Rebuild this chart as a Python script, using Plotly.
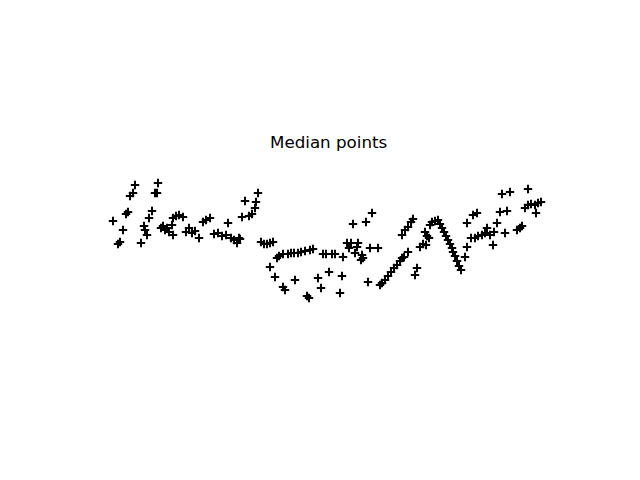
import plotly.graph_objects as go

# Median point positions (x, y)
x_vals = [
    113, 118, 120, 123, 126, 128, 130, 133, 135, 141, 144, 145, 147, 149, 152, 155, 157, 158,
    161, 163, 165, 167, 169,
    173, 176, 179, 183, 172, 173, 186, 189, 192, 195, 199, 203, 206, 210, 214, 218, 222, 226,
    228, 231, 234, 237, 240,
    242, 245, 249, 252, 255, 256, 258, 239, 261, 264, 267, 270, 273, 277, 279, 283, 288, 291,
    294, 298, 301, 305, 310, 313, 270, 275, 283, 285, 295, 307, 309,
    318, 321, 323, 326, 332, 335, 329, 342, 340, 343, 347, 351, 349, 355, 358, 357, 362, 363,
    361, 370, 378, 353, 366, 372, 368, 380,
    382, 385, 388, 391, 394, 397, 400, 402, 404, 408, 402, 405, 408, 411, 413, 417, 415, 420,
    423, 426, 425, 427, 429, 430, 432, 435, 438,
    440, 442, 444, 446, 448, 450, 452, 453, 455, 457, 459, 461,
    467, 465, 467, 473, 477, 471, 475, 478, 482, 485, 487, 490, 494, 497, 493, 505, 500, 507,
    502, 510, 517, 520, 522, 525, 528, 531, 535, 538, 541, 536, 528,
]
y_vals = [
    221, 244, 242, 230, 214, 212, 196, 193, 185, 243, 226, 230, 235, 218, 211, 193, 193, 183,
    228, 226, 230, 228, 232,
    218, 216, 215, 217, 225, 235, 232, 228, 233, 231, 238, 222, 220, 218, 234, 233, 236, 235,
    223, 238, 240, 243, 239,
    217, 201, 216, 214, 208, 202, 193, 238, 242, 244, 244, 243, 242, 258, 256, 254, 254, 253,
    253, 253, 252, 251, 250, 249, 267, 277, 287, 290, 280, 296, 298,
    278, 288, 254, 254, 254, 254, 272, 276, 293, 257, 243, 243, 248, 253, 243, 247, 255, 258,
    260, 248, 248, 224, 222, 213, 282, 285,
    283, 280, 276, 272, 268, 265, 261, 258, 257, 252, 235, 230, 227, 222, 219, 268, 275, 247,
    244, 245, 232, 236, 238, 225, 222, 221, 220,
    224, 228, 232, 236, 240, 244, 248, 252, 256, 261, 266, 270,
    247, 257, 223, 215, 213, 238, 238, 236, 235, 233, 228, 235, 232, 223, 245, 233, 212, 211,
    194, 192, 230, 228, 226, 208, 205, 204, 205, 203, 202, 213, 189,
]
title_text = "Median points"

fig = go.Figure(
    go.Scatter(
        x=x_vals,
        y=y_vals,
        mode="markers",
        marker=dict(symbol="cross-thin", size=6, color="black",
                    line=dict(color="black", width=2)),
        showlegend=False,
    )
)

fig.update_layout(
    width=640,
    height=480,
    margin=dict(l=0, r=0, t=0, b=0),
    paper_bgcolor="white",
    plot_bgcolor="white",
    xaxis=dict(range=[8, 648], visible=False),
    yaxis=dict(range=[488, 8], visible=False),
    annotations=[
        dict(
            text=title_text,
            x=328, y=142, xref="x", yref="y",
            showarrow=False,
            font=dict(family="DejaVu Sans", size=16.7, color="black"),
            xanchor="center", yanchor="middle",
        )
    ],
)

fig.write_html("out.html")
